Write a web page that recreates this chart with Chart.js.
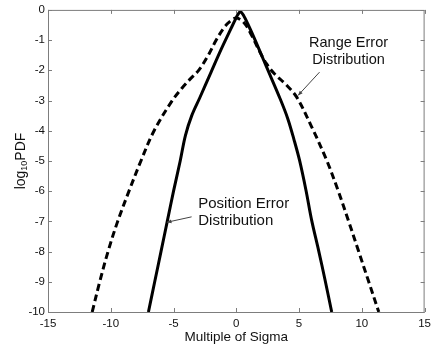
<!DOCTYPE html>
<html>
<head>
<meta charset="utf-8">
<script src="https://cdn.jsdelivr.net/npm/chart.js@4/dist/chart.umd.min.js"></script>
<style>
  html, body { margin: 0; padding: 0; background: #fff; }
  canvas { display: block; }
</style>
</head>
<body>
<canvas id="chart-pdf" width="436" height="350"></canvas>
<script>
const pdfCanvas = document.querySelector("#chart-pdf");

// position error curve (solid)
const positionX = [-7.0, -6.5, -6.0, -5.5, -5.0, -4.47, -4.05, -3.55, -2.9, -2.0, -1.2, -0.54, -0.15, 0.1, 0.33, 0.6, 0.9, 1.5, 2.4, 3.5, 4.1, 4.6, 5.05, 5.55, 6.0, 6.55, 7.07, 7.6];
const positionY = [-10, -9, -8, -7, -6, -5, -4.15, -3.5, -2.9, -2.05, -1.3, -0.72, -0.38, -0.17, -0.06, -0.2, -0.45, -1.0, -1.88, -2.95, -3.6, -4.3, -5.0, -5.97, -6.96, -7.95, -8.94, -10];

// range error curve (dashed)
const rangeX = [-11.48, -10.88, -10.22, -9.45, -8.55, -7.6, -6.55, -5.1, -4.35, -3.7, -3.0, -2.3, -1.6, -1.0, -0.5, 0.0, 0.6, 1.2, 1.8, 2.4, 3.0, 3.9, 4.8, 6.0, 7.2, 8.1, 8.95, 9.75, 10.55, 11.35];
const rangeY = [-10, -9, -8, -7, -6, -5, -4, -3, -2.6, -2.3, -2.0, -1.55, -1.0, -0.6, -0.38, -0.27, -0.42, -0.82, -1.33, -1.78, -2.1, -2.45, -2.88, -3.87, -4.98, -5.97, -7, -8, -9, -10];

const xTicks = [-15, -10, -5, 0, 5, 10, 15];
const yTicks = [-10, -9, -8, -7, -6, -5, -4, -3, -2, -1, 0];

const FONT = "'Liberation Sans', Arial, sans-serif";

const toPoints = (xs, ys) => xs.map((x, i) => ({ x: x, y: ys[i] }));

// labels with arrows: text lines, anchor of text, arrow from -> to (data units)
const notes = [
  { lines: ["Range Error", "Distribution"], size: 14.5, at: [8.94, -1.23], align: "center", from: [6.63, -2.06], to: [4.92, -2.83] },
  { lines: ["Position Error", "Distribution"], size: 15, at: [-3.03, -6.57], align: "left", from: [-3.56, -6.85], to: [-5.53, -7.03] },
];

// box around the plot + inward ticks on all four sides
const boxPlugin = {
  id: "box",
  afterDatasetsDraw(chart) {
    const { ctx, chartArea: a, scales } = chart;
    ctx.save();
    ctx.strokeStyle = "#7d7d7d";
    ctx.lineWidth = 1;
    ctx.strokeRect(a.left + 0.5, a.top + 0.5, a.right - a.left - 1, a.bottom - a.top);
    ctx.beginPath();
    xTicks.forEach((v) => {
      const px = Math.round(scales.x.getPixelForValue(v)) + 0.5;
      ctx.moveTo(px, a.bottom); ctx.lineTo(px, a.bottom - 4);
      ctx.moveTo(px, a.top); ctx.lineTo(px, a.top + 4);
    });
    yTicks.forEach((v) => {
      const py = Math.round(scales.y.getPixelForValue(v)) + 0.5;
      ctx.moveTo(a.left, py); ctx.lineTo(a.left + 4, py);
      ctx.moveTo(a.right, py); ctx.lineTo(a.right - 4, py);
    });
    ctx.stroke();
    ctx.restore();
  },
  afterDraw(chart) {
    const { ctx, scales } = chart;
    ctx.save();
    // notes
    ctx.textBaseline = "alphabetic";
    notes.forEach((n) => {
      const tx = scales.x.getPixelForValue(n.at[0]);
      const ty = scales.y.getPixelForValue(n.at[1]);
      ctx.fillStyle = "#111";
      ctx.font = n.size + "px " + FONT;
      ctx.textAlign = n.align;
      n.lines.forEach((line, i) => ctx.fillText(line, tx, ty + i * 17));
      const x0 = scales.x.getPixelForValue(n.from[0]);
      const y0 = scales.y.getPixelForValue(n.from[1]);
      const x1 = scales.x.getPixelForValue(n.to[0]);
      const y1 = scales.y.getPixelForValue(n.to[1]);
      ctx.strokeStyle = "#444";
      ctx.lineWidth = 1;
      ctx.beginPath(); ctx.moveTo(x0, y0); ctx.lineTo(x1, y1); ctx.stroke();
      const ang = Math.atan2(y1 - y0, x1 - x0);
      ctx.fillStyle = "#444";
      ctx.beginPath();
      ctx.moveTo(x1, y1);
      ctx.lineTo(x1 - 5 * Math.cos(ang - 0.4), y1 - 5 * Math.sin(ang - 0.4));
      ctx.lineTo(x1 - 5 * Math.cos(ang + 0.4), y1 - 5 * Math.sin(ang + 0.4));
      ctx.closePath(); ctx.fill();
    });
    // y axis title with subscript
    ctx.translate(25, 161);
    ctx.rotate(-Math.PI / 2);
    ctx.fillStyle = "#111";
    ctx.textAlign = "left";
    const big = "14px " + FONT, small = "9px " + FONT;
    ctx.font = big; const w1 = ctx.measureText("log").width; const w3 = ctx.measureText("PDF").width;
    ctx.font = small; const w2 = ctx.measureText("10").width;
    let x = -(w1 + w2 + w3) / 2;
    ctx.font = big; ctx.fillText("log", x, 0); x += w1;
    ctx.font = small; ctx.fillText("10", x, 2); x += w2;
    ctx.font = big; ctx.fillText("PDF", x, 0);
    ctx.restore();
  },
};

const chartPdf = new Chart(pdfCanvas, {
  type: "scatter",
  data: {
    datasets: [
      {
        label: "Position Error Distribution",
        data: toPoints(positionX, positionY),
        showLine: true,
        borderColor: "#000",
        borderWidth: 3,
        pointRadius: 0,
        tension: 0.35,
      },
      {
        label: "Range Error Distribution",
        data: toPoints(rangeX, rangeY),
        showLine: true,
        borderColor: "#000",
        borderWidth: 3,
        borderDash: [7, 4],
        pointRadius: 0,
        tension: 0.35,
      },
    ],
  },
  options: {
    responsive: false,
    animation: false,
    layout: { padding: { left: 0, right: 7, top: 9, bottom: 0 } },
    plugins: {
      legend: { display: false },
      tooltip: { enabled: false },
    },
    scales: {
      x: {
        type: "linear",
        min: -15,
        max: 15,
        afterBuildTicks: (scale) => { scale.ticks = xTicks.map((v) => ({ value: v })); },
        afterFit: (scale) => { scale.height = 38; },
        grid: { display: false, drawTicks: false },
        border: { display: false },
        ticks: { padding: 5, color: "#111", font: { family: FONT, size: 11.5 }, maxRotation: 0 },
        title: {
          display: true,
          text: "Multiple of Sigma",
          color: "#111",
          font: { family: FONT, size: 13.5 },
          padding: { top: 5, bottom: 5 },
        },
      },
      y: {
        type: "linear",
        min: -10,
        max: 0,
        afterBuildTicks: (scale) => { scale.ticks = yTicks.map((v) => ({ value: v })); },
        afterFit: (scale) => { scale.width = 48; },
        grid: { display: false, drawTicks: false },
        border: { display: false },
        ticks: { padding: 3, color: "#111", font: { family: FONT, size: 11.5 } },
      },
    },
  },
  plugins: [boxPlugin],
});
</script>
</body>
</html>
